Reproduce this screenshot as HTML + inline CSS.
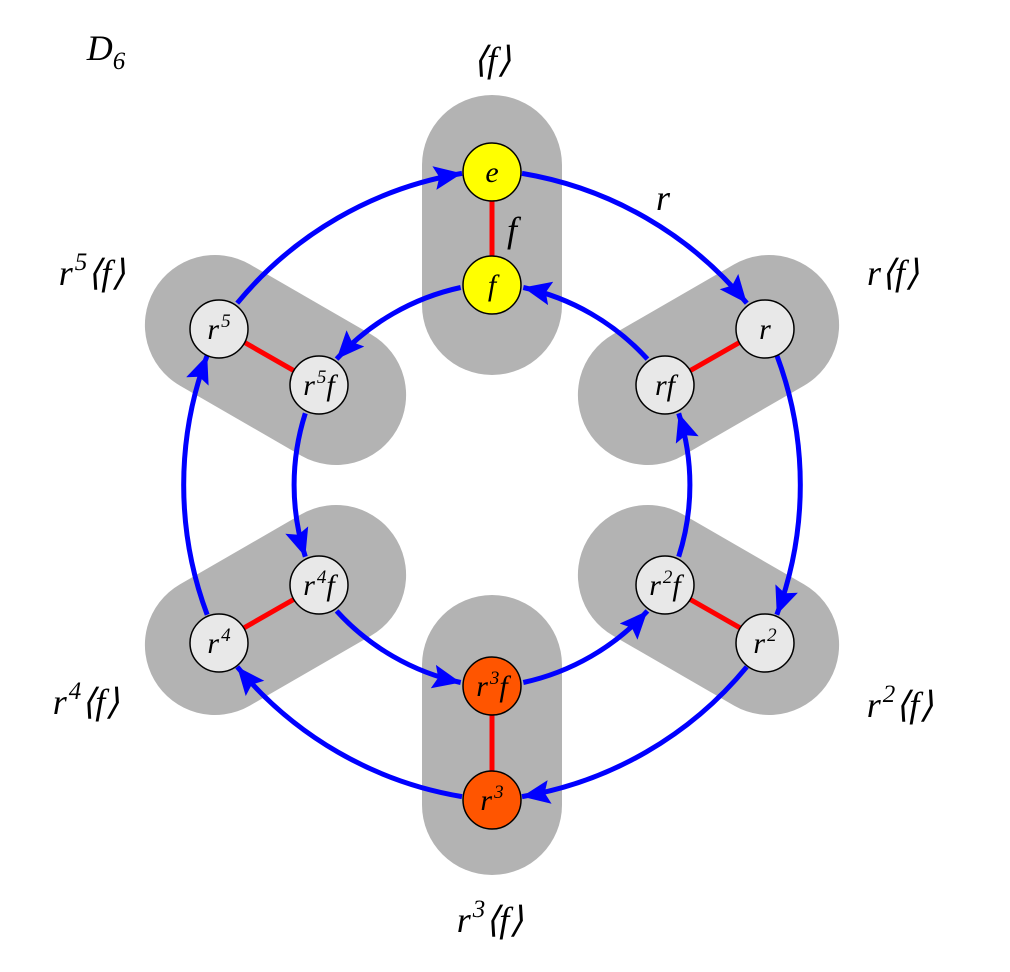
<!DOCTYPE html>
<html><head><meta charset="utf-8"><style>
html,body{margin:0;padding:0;background:#fff;}
svg{display:block;}
text{font-family:"Liberation Serif",serif;font-style:italic;}
</style></head><body>
<svg width="1010" height="972" viewBox="0 0 1010 972" xmlns="http://www.w3.org/2000/svg">
<defs>
<marker id="ah" markerUnits="userSpaceOnUse" markerWidth="32" markerHeight="26" refX="28" refY="12" orient="auto">
<path d="M0,0 L28,12 L0,24 L5,12 Z" fill="#0000ff"/>
</marker>
</defs>
<g stroke="#b3b3b3" stroke-width="140" stroke-linecap="round">
<line x1="492" y1="165" x2="492" y2="305"/>
<line x1="769.1" y1="325" x2="647.9" y2="395"/>
<line x1="769.1" y1="645" x2="647.9" y2="575"/>
<line x1="492" y1="805" x2="492" y2="665"/>
<line x1="214.9" y1="645" x2="336.1" y2="575"/>
<line x1="214.9" y1="325" x2="336.1" y2="395"/>
</g>
<g stroke="#ff0000" stroke-width="5">
<line x1="492" y1="172" x2="492" y2="285"/>
<line x1="763" y1="329" x2="665" y2="385"/>
<line x1="763" y1="641" x2="665" y2="585"/>
<line x1="492" y1="798" x2="492" y2="685"/>
<line x1="221" y1="641" x2="319" y2="585"/>
<line x1="221" y1="329" x2="319" y2="385"/>
</g>
<g fill="none" stroke="#0000ff" stroke-width="5" marker-end="url(#ah)">
<path d="M522,173.4 A370,370 0 0 1 746.8,303.2"/>
<path d="M776.8,355.2 A370,370 0 0 1 776.8,614.8"/>
<path d="M746.8,666.8 A370,370 0 0 1 522,796.6"/>
<path d="M462,796.6 A370,370 0 0 1 237.2,666.8"/>
<path d="M207.2,614.8 A370,370 0 0 1 207.2,355.2"/>
<path d="M237.2,303.2 A370,370 0 0 1 462,173.4"/>
<path d="M460.7,287.5 A235,235 0 0 0 336.6,359.1"/>
<path d="M305.3,413.3 A235,235 0 0 0 305.3,556.7"/>
<path d="M336.6,610.9 A235,235 0 0 0 460.7,682.5"/>
<path d="M523.3,682.5 A235,235 0 0 0 647.4,610.9"/>
<path d="M678.7,556.7 A235,235 0 0 0 678.7,413.3"/>
<path d="M647.4,359.1 A235,235 0 0 0 523.3,287.5"/>
</g>
<g stroke="#000" stroke-width="1.5">
<circle cx="492" cy="172" r="29" fill="#ffff00"/>
<circle cx="492" cy="285" r="29" fill="#ffff00"/>
<circle cx="765" cy="329" r="29" fill="#e8e8e8"/>
<circle cx="665" cy="385" r="29" fill="#e8e8e8"/>
<circle cx="765" cy="643" r="29" fill="#e8e8e8"/>
<circle cx="665" cy="585" r="29" fill="#e8e8e8"/>
<circle cx="492" cy="800" r="29" fill="#ff5500"/>
<circle cx="492" cy="686" r="29" fill="#ff5500"/>
<circle cx="219" cy="643" r="29" fill="#e8e8e8"/>
<circle cx="319" cy="585" r="29" fill="#e8e8e8"/>
<circle cx="219" cy="329" r="29" fill="#e8e8e8"/>
<circle cx="319" cy="385" r="29" fill="#e8e8e8"/>
</g>
<g font-size="30" text-anchor="middle">
<text x="492" y="182">e</text>
<text x="492" y="295">f</text>
<text x="765" y="339">r</text>
<text x="665" y="395">rf</text>
<text x="765" y="653">r<tspan font-size="19" dx="2" dy="-12">2</tspan></text>
<text x="665" y="595">r<tspan font-size="19" dx="2" dy="-12">2</tspan><tspan dy="12">f</tspan></text>
<text x="492" y="810">r<tspan font-size="19" dx="2" dy="-12">3</tspan></text>
<text x="492" y="696">r<tspan font-size="19" dx="2" dy="-12">3</tspan><tspan dy="12">f</tspan></text>
<text x="219" y="653">r<tspan font-size="19" dx="2" dy="-12">4</tspan></text>
<text x="319" y="595">r<tspan font-size="19" dx="2" dy="-12">4</tspan><tspan dy="12">f</tspan></text>
<text x="219" y="339">r<tspan font-size="19" dx="2" dy="-12">5</tspan></text>
<text x="319" y="395">r<tspan font-size="19" dx="2" dy="-12">5</tspan><tspan dy="12">f</tspan></text>
</g>
<g font-size="36" text-anchor="middle">
<text x="106" y="60">D<tspan font-size="25" dy="9">6</tspan></text>
<text x="492" y="72">⟨f⟩</text>
<text x="663" y="210">r</text>
<text x="512" y="242">f</text>
<text x="92" y="285">r<tspan font-size="25" dx="2" dy="-15">5</tspan><tspan dy="15">⟨f⟩</tspan></text>
<text x="893" y="285">r⟨f⟩</text>
<text x="86" y="714">r<tspan font-size="25" dx="2" dy="-15">4</tspan><tspan dy="15">⟨f⟩</tspan></text>
<text x="900" y="717">r<tspan font-size="25" dx="2" dy="-15">2</tspan><tspan dy="15">⟨f⟩</tspan></text>
<text x="490" y="932">r<tspan font-size="25" dx="2" dy="-15">3</tspan><tspan dy="15">⟨f⟩</tspan></text>
</g>
</svg>
</body></html>
